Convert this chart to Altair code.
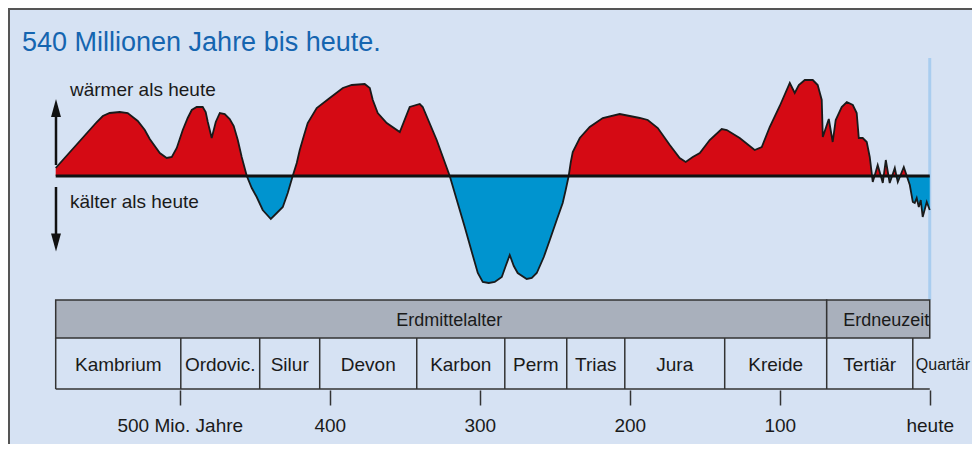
import altair as alt
import pandas as pd
import numpy as np

# ---------------- data ----------------
title_text = "540 Millionen Jahre bis heute."
warm_label = "wärmer als heute"
cold_label = "kälter als heute"

# temperature curve: age in Mio. Jahre, relative deviation (positive = wärmer als heute)
curve_age = [582.7, 555.3, 551.3, 546.7, 540.0, 534.7, 528.0, 523.3, 520.0, 513.3,
             508.7, 505.3, 502.0, 498.0, 494.7, 492.0, 488.7, 484.7, 482.7, 481.3,
             478.7, 476.0, 473.3, 470.0, 466.7, 464.0, 461.3, 458.7, 455.3,
             452.0, 448.7, 444.7, 439.3, 435.3, 431.3, 428.0, 424.7,
             422.0, 420.0, 417.3, 414.7, 408.7, 400.0, 391.3, 385.3, 376.7, 373.3,
             371.3, 368.0, 362.0, 353.3, 346.7, 340.0, 338.0, 328.7, 320.0,
             315.3, 310.0, 305.3, 301.3, 298.0, 294.0, 290.0, 285.3, 282.7, 280.0,
             277.3, 274.7, 268.7, 265.3, 262.0, 257.3, 253.3, 248.7, 244.7, 242.7, 240.7,
             239.3, 238.0, 233.3, 226.7, 218.0, 206.7, 200.0, 193.3, 188.0, 181.3,
             173.3, 166.7, 162.7, 158.0, 153.3, 146.7, 138.7, 135.3, 126.7, 116.7,
             112.0, 106.7, 100.0, 93.3, 90.0, 87.3, 83.3, 78.0, 74.7, 72.0,
             71.3, 67.3, 64.7, 62.7, 58.7, 55.3, 51.3, 48.7, 47.3, 44.7,
             42.0, 40.0, 38.7, 38.5,
             38.0, 36.8, 34.7, 32.6, 31.3, 30.7, 29.3, 27.5, 26.7, 25.1,
             23.3, 22.2, 21.3, 19.7, 17.3, 15.3, 13.3, 11.3, 10.0, 8.7,
             7.3, 6.0, 4.7, 2.0, 0.0]
curve_val = [8, 54, 60, 63, 64, 63, 55, 46, 37, 23,
             18, 19, 28, 46, 58, 66, 69, 69, 64, 54,
             38, 54, 63, 62, 57, 50, 36, 19, 0,
             -12, -21, -34, -43, -37, -31, -17, 0,
             13, 26, 40, 53, 68, 78, 88, 91, 92, 88,
             76, 63, 53, 44, 69, 72, 69, 36, 0,
             -24, -51, -76, -97, -106, -107, -106, -101, -90, -79,
             -90, -97, -103, -102, -97, -81, -64, -44, -27, -14, 0,
             14, 24, 38, 49, 58, 62, 60, 58, 56, 48,
             31, 18, 14, 19, 23, 36, 47, 46, 38, 26,
             29, 49, 70, 93, 83, 91, 96, 96, 91, 76,
             39, 57, 34, 56, 69, 74, 71, 63, 38, 38,
             34, 19, 3, 0,
             -6, 0, 11, 0, -7, 0, 16, 0, -7, 0,
             8, 0, -6, 0, 9, 0, -9, -26, -27, -22,
             -31, -24, -41, -26, -34]

era_names = ["Erdmittelalter", "Erdneuzeit"]
era_start = [582.7, 68.7]
era_end = [68.7, 0.0]

period_names = ["Kambrium", "Ordovic.", "Silur", "Devon", "Karbon", "Perm",
                "Trias", "Jura", "Kreide", "Tertiär", "Quartär"]
period_start = [582.7, 499.3, 446.7, 406.7, 342.0, 283.3, 242.0, 203.3, 136.7, 68.7, 11.3]
period_end = [499.3, 446.7, 406.7, 342.0, 283.3, 242.0, 203.3, 136.7, 68.7, 11.3, 0.0]

tick_values = [500, 400, 300, 200, 100, 0]
tick_labels = ["500 Mio. Jahre", "400", "300", "200", "100", "heute"]

# ---------------- layout / style ----------------
FONT = "Liberation Sans, Arial, sans-serif"
BG = "#d6e2f3"
RED = "#d50a14"
BLUE = "#0094cf"
DARK = "#1a1a1a"
GRID = "#333333"
W, H = 964, 382
PAD_B = 54
PX_PER_MY = 1.5
X_DOMAIN = [614.5, 614.5 - W / PX_PER_MY]
Y_DOMAIN = [-214, 168]

xs = alt.Scale(domain=X_DOMAIN, nice=False, zero=False)
ys = alt.Scale(domain=Y_DOMAIN, nice=False, zero=False)

label_expr = " : ".join(
    f"datum.value == {v} ? '{t}'" for v, t in zip(tick_values, tick_labels)
) + " : datum.label"

xa = alt.Axis(values=tick_values, labelExpr=label_expr, title=None, domain=False,
              grid=False, tickSize=15, tickWidth=1.5, tickColor=GRID,
              labelFontSize=19, labelFont=FONT, labelColor=DARK, labelPadding=11,
              labelOverlap=False, labelFlush=False)


def X(field):
    return alt.X(field, type="quantitative", scale=xs, axis=xa)


def Y(field):
    return alt.Y(field, type="quantitative", scale=ys, axis=None)


curve = pd.DataFrame({"age": curve_age, "val": curve_val})
curve["pos"] = np.maximum(curve["val"], 0)
curve["neg"] = np.minimum(curve["val"], 0)
curve["zero"] = 0

eras = pd.DataFrame({"name": era_names, "start": era_start, "end": era_end})
eras["mid"] = (eras["start"] + eras["end"]) / 2
periods = pd.DataFrame({"name": period_names, "start": period_start, "end": period_end})
periods["mid"] = (periods["start"] + periods["end"]) / 2
main_periods = periods.iloc[:-1]
last_period = periods.iloc[-1:]

one = pd.DataFrame({"k": [0]})
base_df = pd.DataFrame({"a": [period_start[0]], "b": [0.0], "zero": [0]})
now_df = pd.DataFrame({"age": [0.0]})

frame_left = alt.Chart(one).mark_rule(color="#555555", strokeWidth=2).encode(
    x=alt.value(1), y=alt.value(0), y2=alt.value(H + PAD_B))
frame_top = alt.Chart(one).mark_rule(color="#555555", strokeWidth=2).encode(
    x=alt.value(0), x2=alt.value(W), y=alt.value(1))

now_line = alt.Chart(now_df).mark_rule(color="#a9cdef", strokeWidth=3).encode(
    x=X("age"), y=alt.value(50), y2=alt.value(292))

red = alt.Chart(curve).mark_area(color=RED, opacity=1).encode(
    x=X("age"), y=Y("pos"), y2="zero")
blue = alt.Chart(curve).mark_area(color=BLUE, opacity=1).encode(
    x=X("age"), y=Y("neg"), y2="zero")
outline = alt.Chart(curve).mark_line(color=DARK, strokeWidth=1.8).encode(
    x=X("age"), y=Y("val"))
baseline = alt.Chart(base_df).mark_rule(color="#111111", strokeWidth=3).encode(
    x=X("a"), x2="b", y=Y("zero"))

arrow_up_shaft = alt.Chart(one).mark_rule(color="#111111", strokeWidth=2.5).encode(
    x=alt.value(48), y=alt.value(104), y2=alt.value(157))
arrow_dn_shaft = alt.Chart(one).mark_rule(color="#111111", strokeWidth=2.5).encode(
    x=alt.value(48), y=alt.value(179), y2=alt.value(232))
arrow_up_head = alt.Chart(one).mark_point(
    shape="M0,-1L0.55,1L-0.55,1Z", filled=True, color="#111111", opacity=1, size=324,
    strokeWidth=0).encode(x=alt.value(48), y=alt.value(100))
arrow_dn_head = alt.Chart(one).mark_point(
    shape="M0,1L0.55,-1L-0.55,-1Z", filled=True, color="#111111", opacity=1, size=324,
    strokeWidth=0).encode(x=alt.value(48), y=alt.value(234.5))

warm_text = alt.Chart(pd.DataFrame({"label": [warm_label]})).mark_text(
    align="left", baseline="middle", fontSize=19, font=FONT, color=DARK).encode(
    x=alt.value(62), y=alt.value(82), text="label:N")
cold_text = alt.Chart(pd.DataFrame({"label": [cold_label]})).mark_text(
    align="left", baseline="middle", fontSize=19, font=FONT, color=DARK).encode(
    x=alt.value(62), y=alt.value(194), text="label:N")
title = alt.Chart(pd.DataFrame({"label": [title_text]})).mark_text(
    align="left", baseline="middle", fontSize=27, font=FONT, color="#1565b0").encode(
    x=alt.value(14), y=alt.value(35), text="label:N")

era_rect = alt.Chart(eras).mark_rect(fill="#a9b0bc", stroke=GRID, strokeWidth=1.5).encode(
    x=X("start"), x2="end", y=alt.value(292), y2=alt.value(330))
era_text = alt.Chart(eras).mark_text(
    baseline="middle", fontSize=18, font=FONT, color=DARK, dx=8).encode(
    x=X("mid"), y=alt.value(313), text="name:N")

period_lines = alt.Chart(periods).mark_rule(color=GRID, strokeWidth=1.5).encode(
    x=X("start"), y=alt.value(330), y2=alt.value(381))
period_bottom = alt.Chart(base_df).mark_rule(color=GRID, strokeWidth=1.5).encode(
    x=X("a"), x2="b", y=alt.value(381))
period_text = alt.Chart(main_periods).mark_text(
    baseline="middle", fontSize=19, font=FONT, color=DARK).encode(
    x=X("mid"), y=alt.value(357), text="name:N")
last_text = alt.Chart(last_period).mark_text(
    align="left", baseline="middle", fontSize=16, font=FONT, color=DARK, dx=3).encode(
    x=X("start"), y=alt.value(357), text="name:N")

chart = alt.layer(
    now_line, red, blue, outline, baseline,
    arrow_up_shaft, arrow_dn_shaft, arrow_up_head, arrow_dn_head,
    warm_text, cold_text, title,
    era_rect, era_text, period_lines, period_bottom, period_text, last_text,
    frame_left, frame_top,
).properties(
    width=W, height=H,
    padding={"left": 0, "top": 0, "right": 0, "bottom": PAD_B},
    autosize=alt.AutoSizeParams(type="none"),
    background=BG,
).configure(font=FONT).configure_view(stroke=None)

chart.save("out.html", embed_options={"renderer": "svg", "actions": False})
